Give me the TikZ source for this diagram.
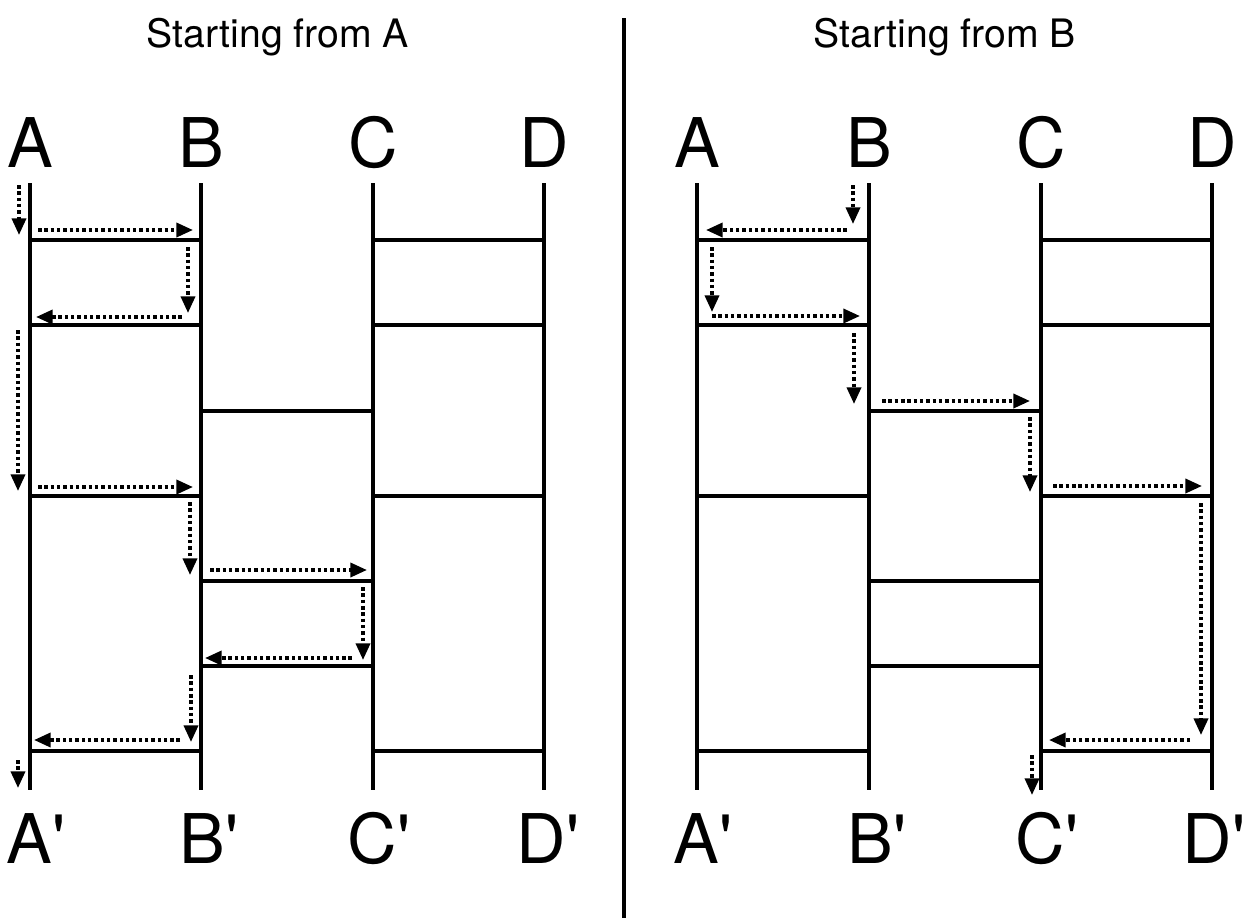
\documentclass[tikz,border=0pt]{standalone}
\usepackage{fontspec}
\setmainfont{TeX Gyre Heros}
\usetikzlibrary{arrows.meta}
\newcommand\walkarrow[5]{\coordinate (#1s) at (#2,#3); \coordinate (#1e) at (#4,#5); \draw[walk] (#1s) -- (#1e);}
\begin{document}
\begin{tikzpicture}[x=0.02cm,y=-0.02cm,
  rail/.style={line width=2.2pt},
  rung/.style={line width=2.2pt},
  walk/.style={line width=2pt, dash pattern=on 2pt off 1.6pt, -{Triangle[length=9.5pt,width=8pt]}},
  ttl/.style={font=\fontsize{22.3}{26}\selectfont, anchor=base, inner sep=0pt},
  lab/.style={font=\fontsize{39}{47}\selectfont, anchor=base, inner sep=0pt}]
\useasboundingbox (0,0) rectangle (1247,920);
% titles
\node[ttl] (t1) at (278,47) {Starting from A};
\node[ttl] (t2) at (945,47) {Starting from B};
% divider
\coordinate (dtop) at (624,18);
\coordinate (dbot) at (624,918);
\draw[rail] (dtop) -- (dbot);
% rails and labels
\foreach \n/\x/\l/\o in {A/30/A/6,B/201/B/8,C/373/C/6,D/544/D/4,E/697/A/6,F/869/B/8,G/1041/C/6,H/1212/D/2}{
  \coordinate (t\n) at (\x,183);
  \coordinate (b\n) at (\x,790);
  \draw[rail] (t\n) -- (b\n);
  \node[lab] (l\n) at (\x,167) {\l};
  \node[lab] (p\n) at (\x+\o,863) {\l\textquotesingle};
}
% rungs
\foreach \p/\q in {A/B,C/D,E/F,G/H}{
  \foreach \y in {240,325,496,751}{
    \draw[rung] (t\p |- 0,\y) -- (t\q |- 0,\y);
  }
}
\foreach \p/\q in {B/C,F/G}{
  \foreach \y in {411,581,666}{
    \draw[rung] (t\p |- 0,\y) -- (t\q |- 0,\y);
  }
}
% left walk
\walkarrow{wa}{19}{185}{19}{235}
\walkarrow{wb}{38}{230}{193}{230}
\walkarrow{wc}{188}{247}{188}{313}
\walkarrow{wd}{182}{317}{36}{317}
\walkarrow{we}{18}{330}{18}{491}
\walkarrow{wf}{38}{487}{193}{487}
\walkarrow{wg}{190}{502}{190}{575}
\walkarrow{wh}{210}{570}{367}{570}
\walkarrow{wi}{363}{587}{363}{660}
\walkarrow{wj}{352}{658}{205}{658}
\walkarrow{wk}{191}{675}{191}{742}
\walkarrow{wl}{180}{740}{34}{740}
\walkarrow{wm}{18}{760}{18}{788}
% right walk
\walkarrow{va}{853}{185}{853}{224}
\walkarrow{vb}{847}{230}{706}{230}
\walkarrow{vc}{712}{247}{712}{312}
\walkarrow{vd}{712}{316}{860}{316}
\walkarrow{ve}{854}{333}{854}{404}
\walkarrow{vf}{882}{401}{1030}{401}
\walkarrow{vg}{1030}{417}{1030}{492}
\walkarrow{vh}{1053}{486}{1202}{486}
\walkarrow{vi}{1201}{503}{1201}{735}
\walkarrow{vj}{1190}{740}{1049}{740}
\walkarrow{vk}{1032}{755}{1032}{795}
\end{tikzpicture}
\end{document}
